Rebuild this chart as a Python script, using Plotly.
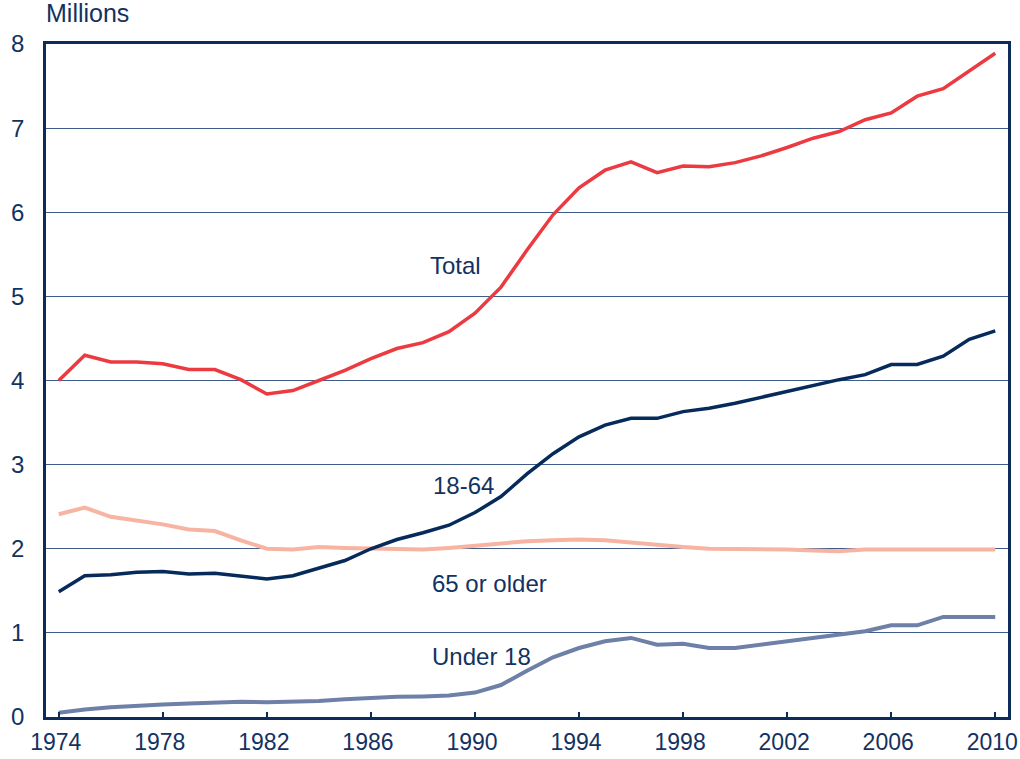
import plotly.graph_objects as go

years = list(range(1974, 2011))

total = [4.0, 4.30, 4.22, 4.22, 4.20, 4.13, 4.13, 4.01, 3.84, 3.88,
         4.00, 4.12, 4.26, 4.38, 4.45, 4.58, 4.80, 5.11, 5.55, 5.97,
         6.29, 6.50, 6.60, 6.47, 6.55, 6.54, 6.59, 6.67, 6.77, 6.88,
         6.96, 7.10, 7.18, 7.38, 7.47, 7.68, 7.89]

age_18_64 = [1.49, 1.68, 1.69, 1.72, 1.73, 1.70, 1.71, 1.68, 1.64, 1.68,
             1.77, 1.86, 2.00, 2.11, 2.19, 2.28, 2.43, 2.62, 2.89, 3.13,
             3.33, 3.47, 3.55, 3.55, 3.63, 3.67, 3.73, 3.80, 3.87, 3.95,
             4.01, 4.07, 4.19, 4.19, 4.29, 4.49, 4.59]

age_65_plus = [2.41, 2.49, 2.38, 2.34, 2.29, 2.23, 2.21, 2.10, 2.00, 1.99,
               2.02, 2.01, 2.00, 2.00, 1.99, 2.01, 2.04, 2.07, 2.09, 2.10,
               2.11, 2.10, 2.07, 2.04, 2.02, 2.00, 2.00, 1.99, 1.99, 1.98,
               1.97, 1.99, 1.99, 1.99, 1.99, 1.99, 1.99]

under_18 = [0.05, 0.09, 0.115, 0.135, 0.15, 0.16, 0.17, 0.18, 0.175, 0.18,
            0.19, 0.21, 0.23, 0.24, 0.245, 0.255, 0.29, 0.38, 0.55, 0.71,
            0.82, 0.90, 0.94, 0.86, 0.87, 0.82, 0.82, 0.86, 0.90, 0.94,
            0.98, 1.02, 1.09, 1.09, 1.19, 1.19, 1.19]

tick_years = list(range(1974, 2011, 4))
tick_labels = [str(y) for y in tick_years]
tick_values = list(range(0, 9))

labels = [
    ("Total", 1989.27, 5.37),
    ("18-64", 1989.54, 2.75),
    ("65 or older", 1990.56, 1.59),
    ("Under 18", 1990.25, 0.72),
]

NAVY = "#0E2C5A"
TEXT = "#13325F"
FONT = "Liberation Sans, Arial, sans-serif"
FS = 24

fig = go.Figure()
series = [
    ("Under 18", under_18, "#6E80A8", 4),
    ("65 or older", age_65_plus, "#F8B4A2", 4),
    ("18-64", age_18_64, "#062A5A", 3.5),
    ("Total", total, "#EC3A41", 3.5),
]
for name, vals, color, w in series:
    fig.add_trace(go.Scatter(x=years, y=vals, mode="lines", name=name,
                             line=dict(color=color, width=w), showlegend=False))

for text, x, y in labels:
    fig.add_annotation(x=x, y=y, text=text, showarrow=False,
                       font=dict(family=FONT, size=FS, color=TEXT))

fig.add_annotation(xref="paper", yref="paper", x=0, y=1, xanchor="left",
                   yanchor="bottom", yshift=15, text="Millions", showarrow=False,
                   font=dict(family=FONT, size=25, color=TEXT), xshift=-2)

fig.update_layout(
    width=1020, height=759,
    margin=dict(l=46, r=12, t=44, b=42),
    plot_bgcolor="white", paper_bgcolor="white",
    font=dict(family=FONT, size=FS, color=TEXT),
)
fig.update_xaxes(range=[1973.51, 2010.49], tickvals=tick_years,
                 ticktext=tick_labels,
                 showgrid=False, zeroline=False, automargin=False,
                 ticklabeloverflow="allow", ticklabelshift=-3,
                 showline=True, linecolor=NAVY, linewidth=2.5, mirror=True,
                 ticks="inside", ticklen=5, tickcolor=NAVY, tickwidth=1.5,
                 tickfont=dict(family=FONT, size=23, color=TEXT),
                 ticklabelstandoff=3)
fig.update_yaxes(range=[0, 8], tickvals=tick_values,
                 showgrid=True, gridcolor="#3F5C88", gridwidth=1,
                 zeroline=False, automargin=False,
                 showline=True, linecolor=NAVY, linewidth=2.5, mirror=True,
                 ticks="", tickfont=dict(family=FONT, size=FS, color=TEXT),
                 ticklabelstandoff=14)

fig.write_html("out.html", config={"displayModeBar": False})

with open("out.html", "r", encoding="utf-8") as f:
    html = f.read()
html = html.replace("<head>", "<head><style>html,body{margin:0;padding:0;overflow:hidden;}</style>", 1)
with open("out.html", "w", encoding="utf-8") as f:
    f.write(html)
